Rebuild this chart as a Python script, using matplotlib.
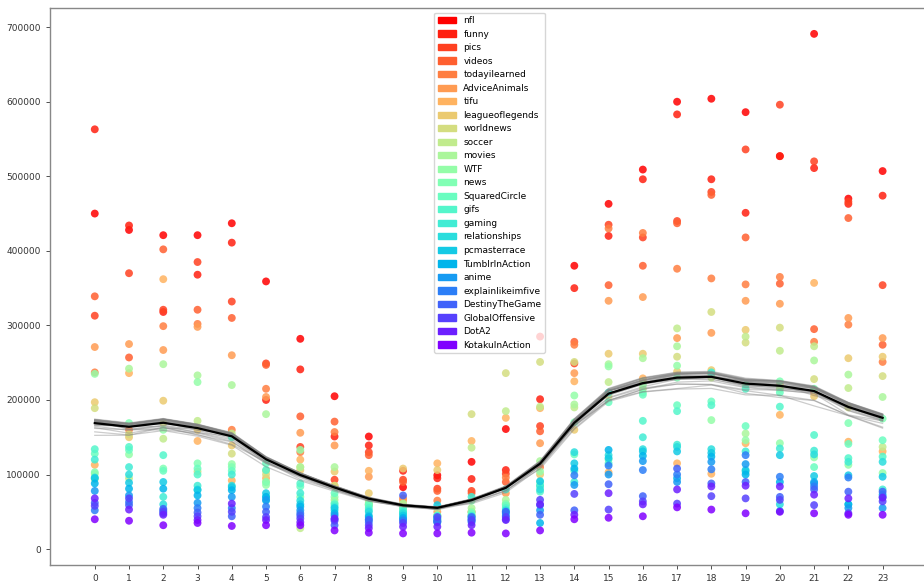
import matplotlib
matplotlib.use("Agg")
import matplotlib.pyplot as plt
import matplotlib.patches as mpatches
import numpy as np

subreddits = ["nfl", "funny", "pics", "videos", "todayilearned", "AdviceAnimals", "tifu",
              "leagueoflegends", "worldnews", "soccer", "movies", "WTF", "news", "SquaredCircle",
              "gifs", "gaming", "relationships", "pcmasterrace", "TumblrInAction", "anime",
              "explainlikeimfive", "DestinyTheGame", "GlobalOffensive", "DotA2", "KotakuInAction"]

hours = list(range(24))

# comments per subreddit (thousands), one list per hour, in the subreddit order above
h00 = [450, 563, 313, 339, 237, 271, 113, 197, 189, 94, 101, 235, 103, 128, 134, 120, 96, 95, 88, 78, 52, 62, 58, 68, 40]
h01 = [428, 434, 370, 257, 160, 275, 236, 150, 154, 95, 242, 127, 169, 133, 137, 110, 100, 89, 81, 72, 63, 59, 68, 53, 38]
h02 = [421, 318, 321, 402, 299, 267, 362, 199, 169, 148, 248, 160, 108, 105, 126, 70, 60, 90, 81, 52, 48, 54, 50, 46, 32]
h03 = [421, 368, 385, 321, 302, 298, 145, 160, 104, 172, 233, 224, 115, 108, 100, 85, 80, 79, 72, 62, 55, 49, 44, 39, 35]
h04 = [437, 411, 332, 310, 160, 260, 92, 139, 128, 155, 220, 114, 110, 105, 150, 100, 85, 83, 79, 70, 55, 44, 50, 61, 31]
h05 = [359, 200, 249, 247, 215, 204, 95, 105, 100, 90, 181, 86, 90, 115, 106, 70, 65, 75, 70, 66, 57, 50, 43, 39, 32]
h06 = [282, 241, 137, 178, 130, 156, 120, 106, 110, 28, 110, 133, 70, 84, 88, 75, 65, 60, 57, 52, 48, 45, 41, 36, 32]
h07 = [205, 151, 93, 171, 157, 139, 85, 104, 85, 66, 110, 70, 62, 75, 60, 57, 52, 55, 48, 45, 40, 32, 38, 41, 25]
h08 = [151, 139, 130, 126, 60, 97, 105, 75, 65, 58, 60, 62, 60, 59, 55, 52, 50, 45, 43, 40, 36, 39, 32, 28, 22]
h09 = [83, 105, 93, 90, 68, 65, 60, 108, 55, 55, 61, 50, 48, 52, 55, 50, 48, 45, 42, 40, 38, 72, 35, 30, 21]
h10 = [99, 95, 81, 78, 65, 50, 115, 106, 45, 55, 45, 40, 38, 36, 45, 44, 42, 59, 40, 38, 36, 37, 43, 30, 21]
h11 = [117, 94, 78, 75, 50, 45, 145, 50, 181, 136, 55, 50, 65, 48, 45, 70, 44, 42, 40, 38, 36, 43, 39, 32, 22]
h12 = [161, 106, 101, 90, 96, 75, 176, 60, 236, 185, 66, 61, 60, 58, 55, 80, 52, 50, 48, 45, 40, 50, 43, 39, 21]
h13 = [285, 201, 165, 158, 110, 142, 189, 100, 251, 191, 118, 104, 90, 85, 77, 85, 80, 91, 35, 52, 59, 46, 66, 60, 25]
h14 = [380, 350, 249, 278, 274, 236, 225, 160, 251, 190, 194, 206, 170, 127, 105, 90, 130, 115, 108, 86, 99, 52, 74, 46, 40]
h15 = [463, 420, 435, 354, 430, 333, 103, 262, 205, 224, 248, 245, 120, 197, 115, 210, 126, 122, 133, 100, 112, 87, 53, 75, 42]
h16 = [509, 496, 418, 380, 424, 338, 229, 262, 225, 215, 256, 220, 210, 207, 172, 150, 134, 131, 125, 118, 106, 71, 64, 60, 44]
h17 = [600, 583, 440, 437, 376, 283, 115, 238, 258, 296, 272, 246, 230, 193, 185, 140, 137, 131, 95, 90, 100, 108, 61, 80, 56]
h18 = [604, 496, 479, 475, 363, 290, 101, 240, 318, 230, 236, 173, 235, 198, 193, 237, 134, 129, 124, 117, 107, 88, 71, 84, 53]
h19 = [586, 451, 536, 418, 355, 333, 142, 294, 277, 285, 155, 146, 220, 165, 215, 131, 104, 106, 100, 114, 126, 90, 68, 85, 48]
h20 = [527, 527, 596, 356, 365, 329, 180, 220, 297, 266, 215, 142, 225, 210, 191, 135, 60, 126, 90, 51, 97, 70, 66, 84, 50]
h21 = [691, 511, 520, 295, 278, 210, 357, 205, 228, 272, 253, 123, 215, 110, 153, 132, 127, 98, 90, 88, 84, 80, 59, 73, 48]
h22 = [470, 463, 466, 444, 301, 310, 144, 256, 190, 216, 234, 113, 169, 141, 122, 117, 60, 99, 60, 55, 96, 77, 48, 68, 46]
h23 = [507, 474, 354, 274, 251, 283, 131, 258, 232, 137, 204, 102, 175, 146, 124, 80, 117, 97, 73, 55, 70, 77, 64, 69, 46]

by_hour = np.array([h00, h01, h02, h03, h04, h05, h06, h07, h08, h09, h10, h11,
                    h12, h13, h14, h15, h16, h17, h18, h19, h20, h21, h22, h23]) * 1000
# shape (24 hours, 25 subreddits)
n = len(subreddits)
colors = plt.cm.rainbow(np.linspace(1, 0, n))

fig = plt.figure(figsize=(9.24, 5.82), dpi=100)
ax = fig.add_axes([0.054, 0.029, 0.952, 0.957])

for i, name in enumerate(subreddits):
    ax.scatter(hours, by_hour[:, i], s=32, color=colors[i], alpha=0.85,
               edgecolors="none", zorder=2)

# leave-one-out means (thin grey) and the overall mean (black)
total = by_hour.sum(axis=1)
for i in range(n):
    loo = (total - by_hour[:, i]) / (n - 1)
    ax.plot(hours, loo, color="gray", alpha=0.4, lw=0.9, zorder=3)
ax.plot(hours, by_hour.mean(axis=1), color="black", lw=1.6, zorder=4)

ax.set_xlim(-1.31, 24.37)
ax.set_ylim(-21500, 725500)
ax.set_xticks(hours)
ax.set_yticks(np.arange(0, 700001, 100000))
ax.tick_params(labelsize=6.5, colors="#333333", length=3, width=0.6)
for sp in ax.spines.values():
    sp.set_color("#888888")
    sp.set_linewidth(1)

handles = [mpatches.Patch(color=colors[i], label=s) for i, s in enumerate(subreddits)]
ax.legend(handles=handles, loc="upper center", fontsize=6.5, framealpha=0.8,
          borderaxespad=0.5)

fig.savefig("out.png", dpi=100)
